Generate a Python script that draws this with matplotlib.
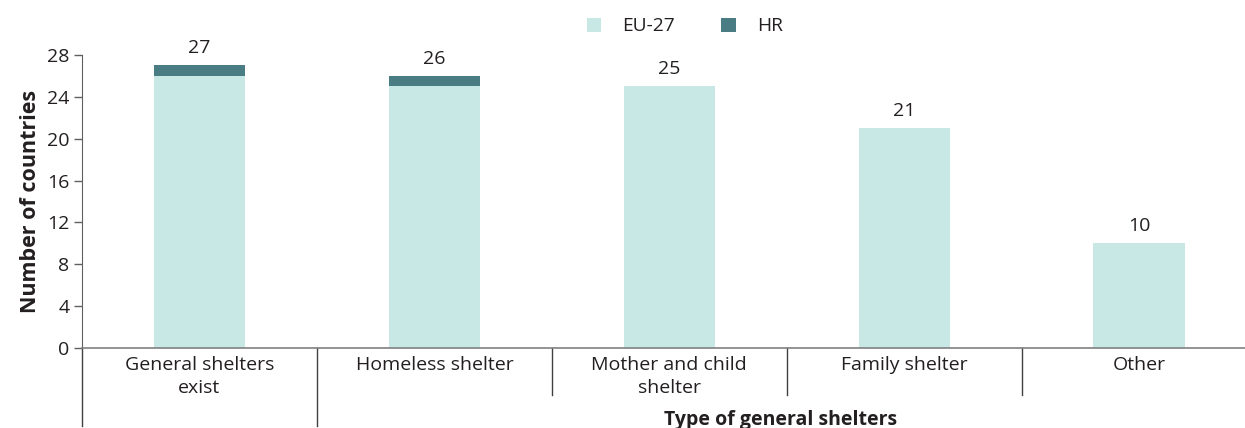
import numpy as np
import matplotlib.pyplot as plt
import matplotlib.transforms as mtransforms

plt.rcParams['font.family'] = ['Open Sans', 'DejaVu Sans']

# -------------------------
# Data
# -------------------------
categories = ["General shelters\nexist", "Homeless shelter", "Mother and child\nshelter",
              "Family shelter", "Other"]
eu27 = [26, 25, 25, 21, 10]
hr = [1, 1, 0, 0, 0]
totals = [a + b for a, b in zip(eu27, hr)]
yticks = [0, 4, 8, 12, 16, 20, 24, 28]

c_eu = "#c8e8e6"
c_hr = "#4a7c84"
txt = "#231f20"

# -------------------------
# Plot
# -------------------------
fig = plt.figure(figsize=(12.45, 4.28), dpi=100)
ax = fig.add_axes([82 / 1245, 80 / 428, 1 - 82 / 1245, 293 / 428])

x = np.arange(len(categories))
w = 0.39
ax.bar(x, eu27, w, color=c_eu, label="EU-27", zorder=2)
ax.bar(x, hr, w, bottom=eu27, color=c_hr, label="HR", zorder=2)

for xi, t in zip(x, totals):
    ax.text(xi, t + 0.8, str(t), ha="center", va="bottom", fontsize=14, color=txt)

ax.set_ylim(0, 28)
ax.set_xlim(-0.5, 4.45)
ax.set_yticks(yticks)
ax.tick_params(axis="y", labelsize=14, colors="#606060", labelcolor=txt, length=6, width=1, pad=3)
ax.set_xticks(x)
ax.set_xticklabels(categories, fontsize=14, color=txt, linespacing=1.3)
ax.tick_params(axis="x", length=0, pad=6)

for s in ["top", "right"]:
    ax.spines[s].set_visible(False)
ax.spines["left"].set_color("#606060")
ax.spines["bottom"].set_color("#808080")
ax.spines["bottom"].set_linewidth(1.2)

ax.set_ylabel("Number of countries", fontsize=15.5, fontweight="bold", color=txt, labelpad=4)

# group separators below axis
trans = mtransforms.blended_transform_factory(ax.transData, ax.transAxes)
for xs, y0 in [(-0.5, -0.265), (0.5, -0.265), (1.5, -0.16), (2.5, -0.16), (3.5, -0.16)]:
    ax.plot([xs, xs], [0, y0], transform=trans, color="#404040", lw=1, clip_on=False)

ax.text(2.475, -0.21, "Type of general shelters", transform=trans, ha="center", va="top",
        fontsize=14, fontweight="bold", color=txt)

leg = fig.legend(loc="upper center", bbox_to_anchor=(0.55, 1.0), ncol=2, frameon=False,
                 fontsize=13.8, handlelength=0.75, handleheight=0.75, columnspacing=2.4,
                 handletextpad=1.1)
for t in leg.get_texts():
    t.set_color(txt)

fig.savefig("out.png", dpi=100)
